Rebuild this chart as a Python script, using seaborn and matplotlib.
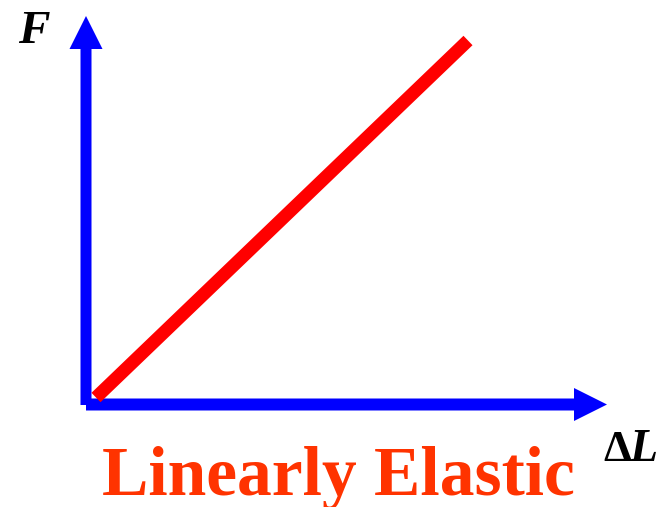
import matplotlib
matplotlib.use("Agg")
import matplotlib.pyplot as plt
import seaborn as sns
import pandas as pd

sns.set_style("white")
plt.rcParams["font.family"] = ["Liberation Serif", "DejaVu Serif"]

# linear elastic response: force vs elongation (arbitrary units)
delta_L = [10, 382]
force = [7, 364]
x_axis_end = 521
y_axis_end = 388.5

df = pd.DataFrame({"delta_L": delta_L, "force": force})

fig = plt.figure(figsize=(6.62, 5.07), dpi=100)
ax = fig.add_axes([0, 0, 1, 1])
ax.set_xlim(-86, 576)
ax.set_ylim(-102.5, 404.5)
ax.set_axis_off()

blue = "#0000FF"
ax.arrow(0, 0, x_axis_end, 0, width=12, head_width=33, head_length=33,
         length_includes_head=True, color=blue, lw=0)
ax.arrow(0, -0.5, 0, y_axis_end + 0.5, width=11, head_width=33, head_length=33,
         length_includes_head=True, color=blue, lw=0)

sns.lineplot(data=df, x="delta_L", y="force", ax=ax, color="#FF0000",
             linewidth=9.4, solid_capstyle="butt")
ax.set_xlabel("")
ax.set_ylabel("")

ax.text(-68, 361.5, "F", fontsize=34, fontweight="bold", fontstyle="italic",
        color="black", ha="left", va="baseline")
ax.text(517, -56.5, "Δ", fontsize=32, fontweight="bold", color="black",
        ha="left", va="baseline")
ax.text(543, -56.5, "L", fontsize=33, fontweight="bold", fontstyle="italic",
        color="black", ha="left", va="baseline")
ax.text(252, -90.5, "Linearly Elastic", fontsize=50, fontweight="bold",
        color="#FF3300", ha="center", va="baseline")

fig.savefig("out.png", dpi=100)
